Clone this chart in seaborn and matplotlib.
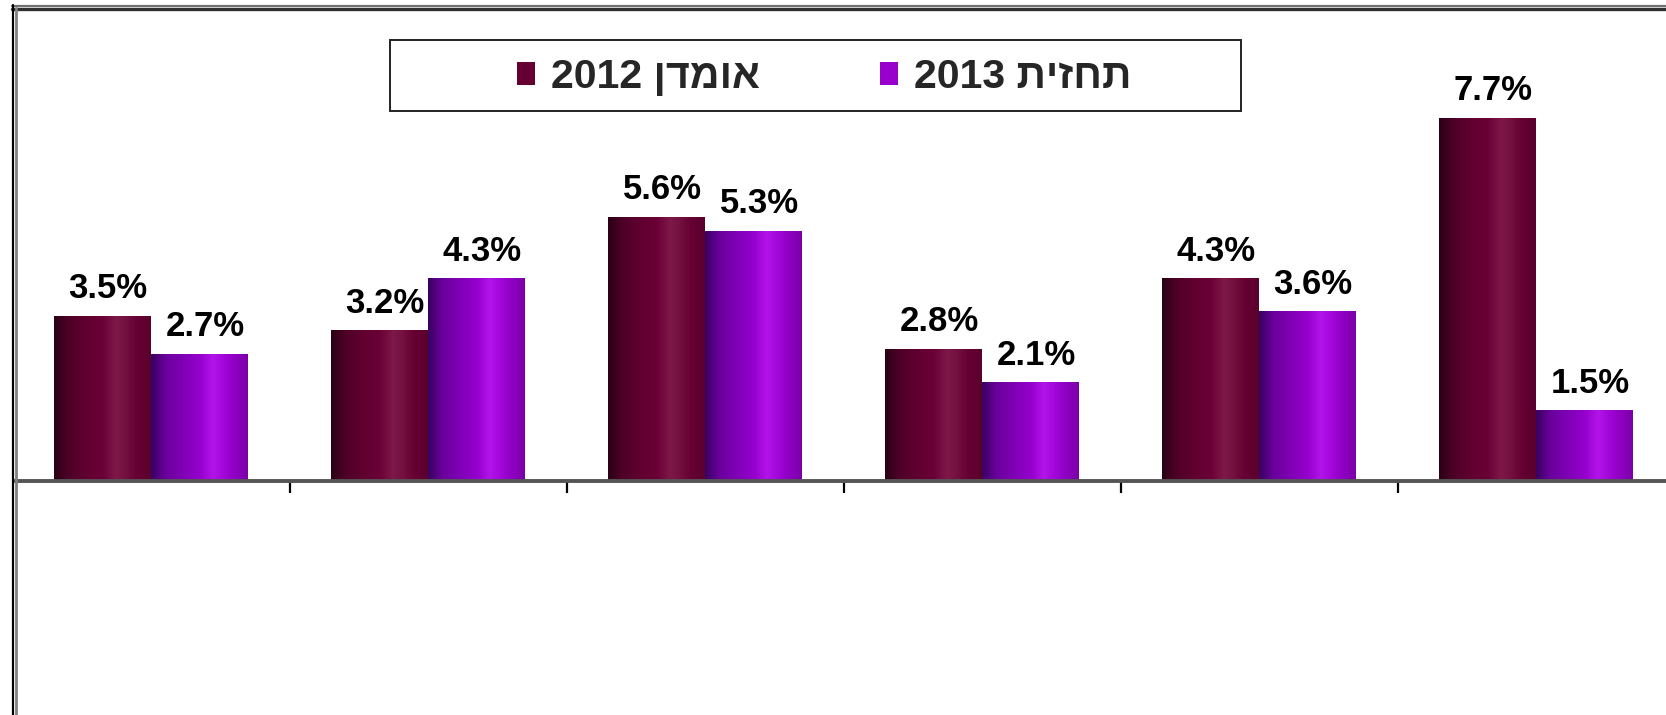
import numpy as np
import pandas as pd
import matplotlib
matplotlib.use("Agg")
import matplotlib.pyplot as plt
from matplotlib.colors import LinearSegmentedColormap
from matplotlib.patches import Rectangle
from matplotlib.lines import Line2D
import seaborn as sns

# ---- data -------------------------------------------------------------
groups = ["1", "2", "3", "4", "5", "6"]
series_names = ["אומדן 2012", "תחזית 2013"]
values_2012 = [3.5, 3.2, 5.6, 2.8, 4.3, 7.7]
values_2013 = [2.7, 4.3, 5.3, 2.1, 3.6, 1.5]
series_colors = ["#660033", "#9900CC"]

df = pd.DataFrame({
    "group": groups * 2,
    "series": [series_names[0]] * len(groups) + [series_names[1]] * len(groups),
    "value": values_2012 + values_2013,
})


def visual_order(text):
    """Lay out a right-to-left Hebrew label for left-to-right rendering."""
    def is_heb(tok):
        return any("\u0590" <= c <= "\u05FF" for c in tok)
    toks = [t[::-1] if is_heb(t) else t for t in text.split(" ")]
    return " ".join(reversed(toks))


# ---- figure -----------------------------------------------------------
W, H = 1666, 715
sns.set_style("white")
plt.rcParams["font.family"] = ["Liberation Sans", "DejaVu Sans"]
plt.rcParams["font.weight"] = "bold"

fig = plt.figure(figsize=(W / 100, H / 100), dpi=100)
fig.patch.set_facecolor("white")

def fx(px):
    return px / W

def fy(py):
    return 1 - py / H

ax_left, ax_right, ax_top, ax_bottom = 16, 1666, 9, 481
ax = fig.add_axes([fx(ax_left), fy(ax_bottom), fx(ax_right - ax_left),
                   (ax_bottom - ax_top) / H])

sns.barplot(data=df, x="group", y="value", hue="series", order=groups,
            hue_order=series_names, palette=series_colors, width=0.7,
            saturation=1, errorbar=None, ax=ax, linewidth=0, zorder=1)

cat_step = 277.0
x_start = -0.488
xlim = (x_start, x_start + (ax_right - ax_left) / cat_step)
ylim = (0, 10)

# cylinder-like shading on each bar
grad_stops = {
    0: ["#2a0015", "#4e0027", "#620031", "#6a0036", "#7e1849", "#73113f",
        "#660033", "#5a002d"],
    1: ["#380060", "#6a009c", "#8200b8", "#9400cc", "#b214ea", "#a408dc",
        "#9000c4", "#7a00a8"],
}
grad_pos = [0.0, 0.15, 0.35, 0.5, 0.64, 0.74, 0.86, 1.0]
cmaps = {k: LinearSegmentedColormap.from_list(f"shade{k}", list(zip(grad_pos, v)))
         for k, v in grad_stops.items()}
ramp = np.linspace(0, 1, 256)[None, :]

bars = [p for p in ax.patches if isinstance(p, Rectangle) and p.get_height() > 0]
bars = sorted(bars, key=lambda p: p.get_x())
for i, p in enumerate(bars):
    k = i % 2
    x0, w, h = p.get_x(), p.get_width(), p.get_height()
    im = ax.imshow(ramp, cmap=cmaps[k], extent=[x0, x0 + w, 0, h],
                   aspect="auto", zorder=1.5, interpolation="bilinear")
    im.set_clip_path(p)

# value labels
for p in bars:
    v = p.get_height()
    ax.annotate(f"{v:.1f}%", (p.get_x() + p.get_width() / 2, v),
                xytext=(4, 12.5), textcoords="offset points",
                ha="center", va="baseline", fontsize=25, fontweight="bold",
                color="black", zorder=5)

# axes styling
for s in ["left", "right", "top"]:
    ax.spines[s].set_visible(False)
ax.spines["bottom"].set_color("#555555")
ax.spines["bottom"].set_linewidth(2.8)
ax.spines["bottom"].set_zorder(3)
ax.set_yticks([])
ax.set_xticks(np.arange(-0.5, len(groups) - 1, 1.0))
ax.set_xticklabels([])
ax.tick_params(axis="x", direction="out", length=8.5, width=1.6,
               color="black", bottom=True)
ax.set_xlabel("")
ax.set_ylabel("")
ax.set_xlim(*xlim)
ax.set_ylim(*ylim)

# legend
handles, labels = ax.get_legend_handles_labels()
ax.legend(handles, [visual_order(l) for l in labels], ncol=2, frameon=False,
          loc="center", bbox_to_anchor=(fx(824), fy(77)),
          bbox_transform=fig.transFigure,
          prop={"family": ["Liberation Sans", "DejaVu Sans"], "weight": "bold",
                "size": 29.5},
          handlelength=0.44, handleheight=0.5, handletextpad=0.39,
          columnspacing=2.94, borderpad=0.2)
fig.add_artist(Rectangle((fx(390), fy(111)), fx(1241 - 390), (111 - 40) / H,
                         transform=fig.transFigure, fill=False,
                         edgecolor="#222222", linewidth=1.4, zorder=4))

# chart frame (top and left edges)
fig.add_artist(Line2D([fx(12), fx(1666)], [fy(6), fy(6)], color="#707070",
                      linewidth=1.6, transform=fig.transFigure))
fig.add_artist(Line2D([fx(12), fx(1666)], [fy(8.8), fy(8.8)], color="#303030",
                      linewidth=2.4, transform=fig.transFigure))
fig.add_artist(Line2D([fx(13), fx(13)], [fy(5), fy(715)], color="black",
                      linewidth=1.6, transform=fig.transFigure))
fig.add_artist(Line2D([fx(15.7), fx(15.7)], [fy(8), fy(715)], color="#808080",
                      linewidth=2.0, transform=fig.transFigure))

fig.savefig("out.png", dpi=100, facecolor="white")
